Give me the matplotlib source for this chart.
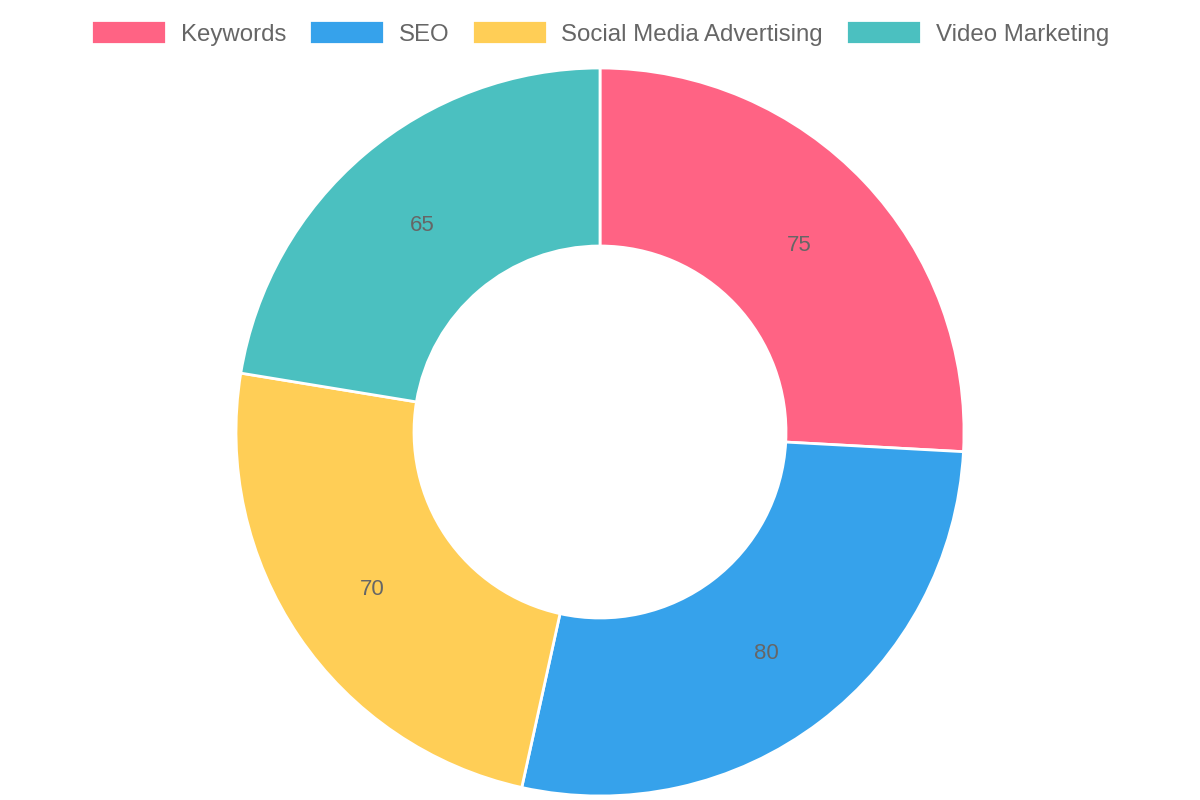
import matplotlib.pyplot as plt
import numpy as np

labels = ['Keywords', 'SEO', 'Social Media Advertising', 'Video Marketing']
values = [75, 80, 70, 65]
colors = ['#FF6384', '#36A2EB', '#FFCE56', '#4BC0C0']

plt.rcParams['font.family'] = ['Liberation Sans', 'DejaVu Sans']

fig = plt.figure(figsize=(12, 8), dpi=100)
ax = fig.add_axes([0, 0, 1, 1])

outer = 364
inner = 186
cx, cy = 600, 368

wedges, _ = ax.pie(values, colors=colors, startangle=90, counterclock=False,
                   radius=outer, center=(cx, cy), frame=True,
                   wedgeprops=dict(width=outer - inner, edgecolor='white', linewidth=2))
ax.set_xlim(0, 1200)
ax.set_ylim(0, 800)
ax.set_aspect('equal')
ax.axis('off')

# value labels at mid radius of each ring segment
total = sum(values)
start = 90.0
mid_r = (outer + inner) / 2
for v in values:
    ang = np.deg2rad(start - v / total * 360 / 2)
    ax.text(cx + mid_r * np.cos(ang), cy + mid_r * np.sin(ang) - 3, str(v),
            ha='center', va='center', fontsize=16, color='#666666')
    start -= v / total * 360

fig.legend(wedges, labels, loc='center', bbox_to_anchor=(0.5, 1 - 33 / 800),
           ncol=4, frameon=False, fontsize=17.3, labelcolor='#666666',
           handlelength=3.1, handleheight=1.15, handletextpad=0.62,
           columnspacing=0.96, borderaxespad=0)

fig.savefig('out.png', dpi=100)
